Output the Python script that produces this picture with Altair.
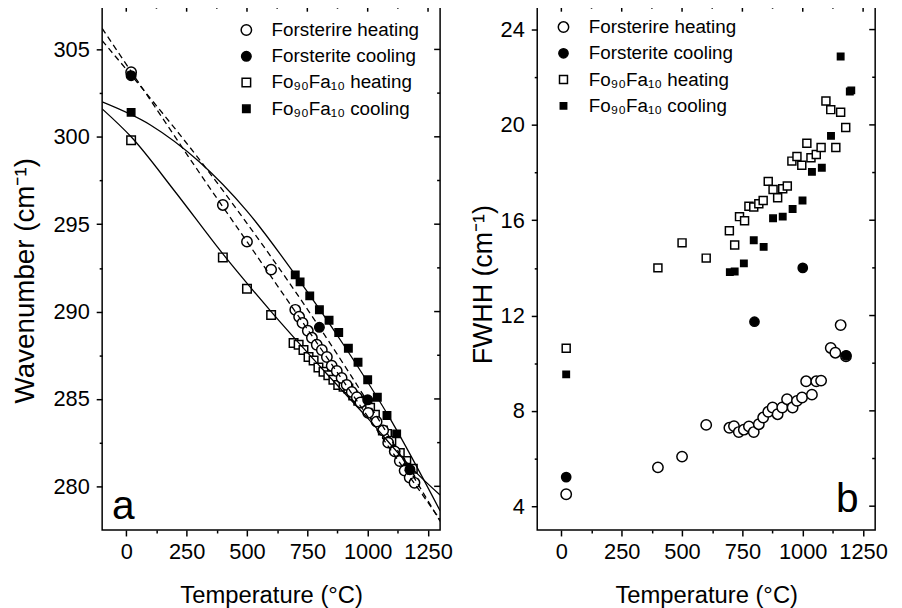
import altair as alt
import pandas as pd

FONT = "Liberation Sans"
SERIES = ["Forsterire heating", "Forsterite cooling", "Fo₉₀Fa₁₀ heating", "Fo₉₀Fa₁₀ cooling"]
FILLS = ["white", "black", "white", "black"]
SHAPES = ["circle", "circle", "square", "square"]

# ---------- panel a : wavenumber (cm-1) ----------
a_fh_T = [20, 400, 500, 600, 700, 716, 730, 752, 769, 789, 810, 831, 851, 872, 892, 913, 934, 955,
          970, 1002, 1037, 1064, 1085, 1112, 1133, 1153, 1174, 1194]
a_fh_v = [303.7, 296.1, 294.0, 292.4, 290.1, 289.7, 289.35, 288.9, 288.5, 288.1, 287.8, 287.4, 286.9,
          286.6, 286.2, 285.8, 285.4, 285.1, 284.8, 284.2, 283.7, 283.2, 282.5, 282.0, 281.45, 280.9,
          280.5, 280.2]
a_fc_T = [20, 800, 1000, 1175]
a_fc_v = [303.5, 289.1, 284.95, 280.95]
a_hh_T = [20, 400, 500, 600, 693, 714, 734, 755, 776, 796, 817, 837, 858, 878, 900, 920, 940, 961,
          988, 1010, 1030, 1063, 1080, 1098, 1133, 1160, 1187]
a_hh_v = [299.8, 293.1, 291.3, 289.8, 288.2, 288.1, 287.8, 287.4, 287.2, 286.8, 286.55, 286.35, 286.1,
          285.8, 285.7, 285.6, 285.2, 284.9, 284.9, 284.5, 284.1, 283.2, 283.0, 282.6, 281.9, 281.45,
          281.0]
a_hc_T = [20, 700, 720, 760, 800, 840, 880, 920, 960, 1000, 1040, 1080, 1120, 1160]
a_hc_v = [301.4, 292.1, 291.7, 290.9, 290.1, 289.5, 288.8, 287.9, 287.1, 286.1, 285.1, 284.05, 283.0,
          281.1]

# fitted curves
fit_fh_T = [-100, 100, 300, 500, 700, 900, 1100, 1300]
fit_fh_v = [306.2, 302.1, 298.0, 294.0, 290.0, 286.0, 282.0, 278.1]
fit_fc_T = [-100, 100, 300, 500, 700, 900, 1100, 1300]
fit_fc_v = [305.5, 302.2, 298.75, 295.05, 291.15, 287.0, 282.6, 278.0]
fit_hc_T = [-100, 100, 300, 500, 700, 900, 1100, 1300]
fit_hc_v = [302.0, 300.68, 298.6, 295.75, 292.1, 288.1, 283.7, 278.6]
fit_hh_T = [-100, 20, 200, 400, 600, 800, 1000, 1200, 1300]
fit_hh_v = [301.6, 300.0, 296.9, 293.3, 290.0, 286.9, 283.9, 280.8, 279.5]

# ---------- panel b : FWHH (cm-1) ----------
b_fh_T = [20, 400, 500, 600, 696, 715, 735, 756, 777, 797, 818, 836, 857, 875, 896, 915, 935, 958,
          976, 997, 1014, 1038, 1056, 1076, 1116, 1135, 1157, 1179]
b_fh_v = [4.5, 5.63, 6.08, 7.41, 7.29, 7.36, 7.11, 7.21, 7.35, 7.11, 7.44, 7.72, 7.96, 8.14, 7.86,
          8.14, 8.49, 8.14, 8.42, 8.56, 9.24, 8.68, 9.24, 9.27, 10.64, 10.44, 11.6, 10.29]
b_fc_T = [20, 800, 1000, 1180]
b_fc_v = [5.22, 11.74, 14.0, 10.33]
b_hh_T = [20, 400, 500, 600, 696, 718, 738, 759, 777, 797, 818, 836, 857, 877, 896, 917, 936, 955,
          976, 996, 1017, 1034, 1056, 1076, 1096, 1116, 1137, 1157, 1178]
b_hh_v = [10.63, 14.0, 15.05, 14.41, 15.56, 14.96, 16.15, 15.98, 16.59, 16.55, 16.69, 16.83, 17.63,
          17.29, 16.94, 17.32, 17.44, 18.48, 18.67, 18.31, 19.23, 18.62, 18.76, 19.05, 21.0, 20.64,
          19.05, 20.53, 19.89]
b_hc_T = [20, 698, 718, 756, 797, 838, 877, 917, 958, 999, 1038, 1079, 1117, 1157, 1195, 1201]
b_hc_v = [9.53, 13.82, 13.85, 14.19, 15.16, 14.88, 16.08, 16.15, 16.47, 16.83, 18.03, 18.2, 19.54,
          22.87, 21.4, 21.45]

# ticks
x_major = [0, 250, 500, 750, 1000, 1250]
x_minor = [125, 375, 625, 875, 1125]
ya_major = [280, 285, 290, 295, 300, 305]
ya_minor = [282.5, 287.5, 292.5, 297.5, 302.5]
yb_major = [4, 8, 12, 16, 20, 24]
yb_minor = [6, 10, 14, 18, 22]

panel_a_label = {"T": [-12], "v": [278.15], "t": ["a"]}
panel_b_label = {"T": [1185], "v": [3.76], "t": ["b"]}

W, H = 341, 529
XSCALE = alt.Scale(domain=[-100, 1300], nice=False, zero=False)
NOAX = None


def pts_frame(groups):
    rows = []
    for name, Ts, vs in groups:
        for t, v in zip(Ts, vs):
            rows.append({"T": t, "v": v, "series": name})
    return pd.DataFrame(rows)


X_MAIN = alt.Axis(orient="bottom", values=x_major, format="d", tickSize=6, labelPadding=6,
                  title="Temperature (°C)", titlePadding=21, titleFontSize=24)
X_MINOR = alt.Axis(orient="bottom", values=x_minor, tickSize=3, labels=False, title=None)


def y_main(major, title, tx, ty, fs):
    return alt.Axis(orient="left", values=major, format="d", tickSize=6, labelPadding=7,
                    title=title, titleX=tx, titleY=ty, titleFontSize=fs)


def y_minor(minor):
    return alt.Axis(orient="left", values=minor, tickSize=3, labels=False, title=None)


def legend(lx, ly):
    return alt.Legend(title=None, orient="none", legendX=lx, legendY=ly, labelFont=FONT,
                      labelFontSize=19, labelColor="black", labelOffset=16, rowPadding=6.5,
                      padding=0, symbolStrokeWidth=1.5)


def points_layer(df, sizes, yscale, xa, ya, leg):
    return alt.Chart(df).mark_point(strokeWidth=1.5, opacity=1, fillOpacity=1).encode(
        x=alt.X("T:Q", scale=XSCALE, axis=xa),
        y=alt.Y("v:Q", scale=yscale, axis=ya),
        fill=alt.Fill("series:N", scale=alt.Scale(domain=SERIES, range=FILLS), legend=leg),
        stroke=alt.Stroke("series:N", scale=alt.Scale(domain=SERIES, range=["black"] * 4), legend=leg),
        shape=alt.Shape("series:N", scale=alt.Scale(domain=SERIES, range=SHAPES), legend=leg),
        size=alt.Size("series:N", scale=alt.Scale(domain=SERIES, range=sizes), legend=leg),
    )


def label_layer(d, yscale, xa, ya):
    return alt.Chart(pd.DataFrame(d)).mark_text(font=FONT, fontSize=41, align="center",
                                                baseline="alphabetic", color="black").encode(
        x=alt.X("T:Q", scale=XSCALE, axis=xa),
        y=alt.Y("v:Q", scale=yscale, axis=ya),
        text="t:N",
    )


def inner_ticks(yscale, ymajor, yminor):
    """Mirror ticks on the top and right frame edges, pointing inward."""
    out = []
    for vals, ln in ((x_major, 6), (x_minor, 3)):
        out.append(alt.Chart(pd.DataFrame({"T": vals})).mark_rule(color="black", strokeWidth=1.5).encode(
            x=alt.X("T:Q", scale=XSCALE, axis=NOAX), y=alt.value(0), y2=alt.value(ln)))
    for vals, ln in ((ymajor, 6), (yminor, 3)):
        out.append(alt.Chart(pd.DataFrame({"v": vals})).mark_rule(color="black", strokeWidth=1.5).encode(
            y=alt.Y("v:Q", scale=yscale, axis=NOAX), x=alt.value(W - ln), x2=alt.value(W)))
    return out


# ---------- build panel a ----------
ya_scale = alt.Scale(domain=[277.5, 307.5], nice=False, zero=False)

pts_a = pts_frame([
    (SERIES[2], a_hh_T, a_hh_v),
    (SERIES[3], a_hc_T, a_hc_v),
    (SERIES[0], a_fh_T, a_fh_v),
    (SERIES[1], a_fc_T, a_fc_v),
])
solid_df = pd.concat([
    pd.DataFrame({"T": fit_hc_T, "v": fit_hc_v, "fit": "hc"}),
    pd.DataFrame({"T": fit_hh_T, "v": fit_hh_v, "fit": "hh"}),
])
dash_df = pd.concat([
    pd.DataFrame({"T": fit_fh_T, "v": fit_fh_v, "fit": "fh"}),
    pd.DataFrame({"T": fit_fc_T, "v": fit_fc_v, "fit": "fc"}),
])

layer_pts_a = points_layer(pts_a, [110, 56, 85, 36], ya_scale, X_MAIN,
                           y_main(ya_major, "Wavenumber (cm⁻¹)", -63, 277, 28), legend(136, 15))
layer_solid = alt.Chart(solid_df).mark_line(color="black", strokeWidth=1.3, interpolate="monotone",
                                            clip=True).encode(
    x=alt.X("T:Q", scale=XSCALE, axis=X_MINOR),
    y=alt.Y("v:Q", scale=ya_scale, axis=y_minor(ya_minor)),
    detail="fit:N",
)
layer_dash = alt.Chart(dash_df).mark_line(color="black", strokeWidth=1.3, strokeDash=[6, 4],
                                          interpolate="monotone", clip=True).encode(
    x=alt.X("T:Q", scale=XSCALE, axis=NOAX),
    y=alt.Y("v:Q", scale=ya_scale, axis=NOAX),
    detail="fit:N",
)
layer_a = label_layer(panel_a_label, ya_scale, NOAX, NOAX)

panel_a = alt.layer(layer_pts_a, layer_solid, layer_dash, layer_a,
                    *inner_ticks(ya_scale, ya_major, ya_minor)).resolve_axis(
    x="independent", y="independent").properties(width=W, height=H)

# ---------- build panel b ----------
yb_scale = alt.Scale(domain=[3, 25], nice=False, zero=False)

pts_b = pts_frame([
    (SERIES[2], b_hh_T, b_hh_v),
    (SERIES[3], b_hc_T, b_hc_v),
    (SERIES[0], b_fh_T, b_fh_v),
    (SERIES[1], b_fc_T, b_fc_v),
])

layer_pts_b = points_layer(pts_b, [110, 42, 90, 40], yb_scale, X_MAIN,
                           y_main(yb_major, "FWHH (cm⁻¹)", -40, 281, 27), legend(17, 12))
layer_b = label_layer(panel_b_label, yb_scale, X_MINOR, y_minor(yb_minor))

panel_b = alt.layer(layer_pts_b, layer_b, *inner_ticks(yb_scale, yb_major, yb_minor)).resolve_axis(
    x="independent", y="independent").properties(width=W, height=H)

chart = alt.hconcat(panel_a, panel_b, spacing=15).resolve_scale(
    fill="independent", stroke="independent", shape="independent", size="independent"
).resolve_legend(fill="independent", stroke="independent", shape="independent", size="independent"
).properties(
    padding={"left": 3, "top": -7, "right": 5, "bottom": 0},
    background="white",
).configure_axis(
    grid=False, domain=False, tickColor="black", tickWidth=1.5,
    labelFont=FONT, labelFontSize=22, labelColor="black",
    titleFont=FONT, titleFontWeight="normal", titleColor="black",
).configure_view(stroke="black", strokeWidth=1.5)

chart.save("out.html", embed_options={"renderer": "svg", "actions": False})
